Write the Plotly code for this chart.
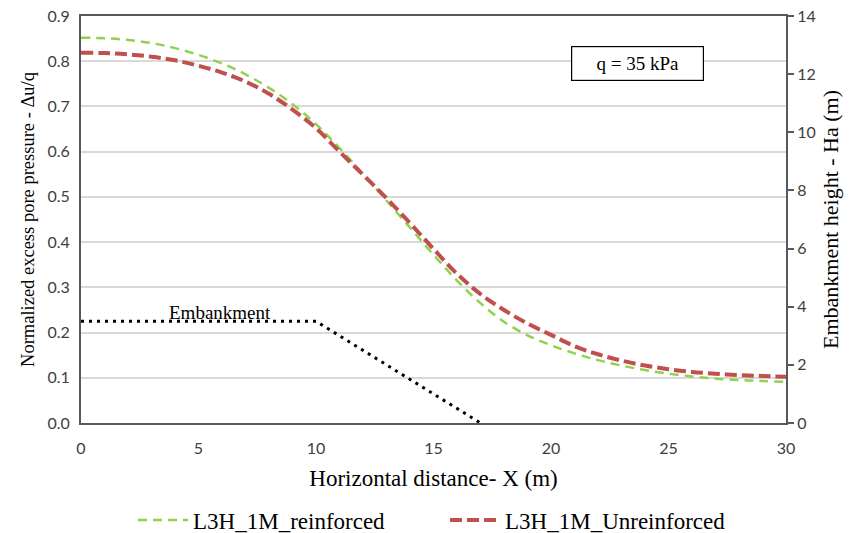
import plotly.graph_objects as go

x_vals = list(range(0, 31))
reinforced = [0.852, 0.851, 0.847, 0.840, 0.829, 0.814, 0.795, 0.771, 0.741, 0.705,
              0.661, 0.608, 0.551, 0.492, 0.432, 0.372, 0.315, 0.265, 0.224, 0.194,
              0.172, 0.154, 0.139, 0.127, 0.117, 0.109, 0.103, 0.098, 0.095, 0.093, 0.091]
unreinforced = [0.819, 0.818, 0.815, 0.810, 0.802, 0.790, 0.775, 0.755, 0.728, 0.693,
                0.652, 0.600, 0.549, 0.497, 0.442, 0.385, 0.330, 0.285, 0.250, 0.220,
                0.195, 0.170, 0.152, 0.138, 0.127, 0.119, 0.113, 0.109, 0.106, 0.104, 0.102]
emb_x = [0, 10, 17]
emb_h = [3.5, 3.5, 0]

serif = "Liberation Serif"
sans = "Lato"
axis_col = "#595959"
tick_col = "#404040"

fig = go.Figure()
fig.add_trace(go.Scatter(x=x_vals, y=reinforced, mode="lines", name="L3H_1M_reinforced",
                         line=dict(color="#92d050", width=2.5, dash="9px,6px", shape="spline")))
fig.add_trace(go.Scatter(x=x_vals, y=unreinforced, mode="lines", name="L3H_1M_Unreinforced",
                         line=dict(color="#c0504d", width=4, dash="12px,5px", shape="spline")))
fig.add_trace(go.Scatter(x=emb_x, y=emb_h, mode="lines", name="Embankment", yaxis="y2",
                         showlegend=False, line=dict(color="#000000", width=3, dash="3px,5px")))

fig.add_annotation(x=5.9, y=0.245, xref="x", yref="y", text="Embankment", showarrow=False,
                   font=dict(family=serif, size=19, color="#000000"))
fig.add_annotation(x=0.883, y=0.9275, xref="paper", yref="paper", text="q = 35 kPa", showarrow=False,
                   font=dict(family=serif, size=19, color="#000000"),
                   bordercolor="#000000", borderwidth=1.2, bgcolor="white",
                   width=129, height=31)

fig.update_layout(
    width=847, height=525,
    margin=dict(l=73, r=69, t=8, b=110),
    paper_bgcolor="white", plot_bgcolor="white",
    font=dict(family=sans, size=16, color=tick_col),
    xaxis=dict(range=[0, 30], dtick=5, showgrid=False, zeroline=False, automargin=False,
               showline=True, mirror=True, linecolor=axis_col, linewidth=2,
               ticks="", ticklabelstandoff=10, ticklabeloverflow="allow",
               tickfont=dict(family=sans, size=16, color=tick_col),
               title=dict(text="Horizontal distance- X (m)", standoff=14,
                          font=dict(family=serif, size=23, color="#000000"))),
    yaxis=dict(range=[0, 0.9], dtick=0.1, tickformat=".1f", showgrid=True, gridcolor="#d9d9d9",
               gridwidth=1.5, zeroline=False, showline=True, linecolor=axis_col, linewidth=2,
               automargin=False, ticks="", ticklabelstandoff=6, ticklabeloverflow="allow",
               tickfont=dict(family=sans, size=16, color=tick_col),
               title=dict(text="Normalized excess pore pressure - Δu/q", standoff=8,
                          font=dict(family=serif, size=18.5, color="#000000"))),
    yaxis2=dict(range=[0, 14], dtick=2, overlaying="y", side="right", showgrid=False,
                zeroline=False, showline=True, linecolor=axis_col, linewidth=2, automargin=False,
                ticks="outside", ticklen=6, tickwidth=1.5, tickcolor=axis_col,
                ticklabeloverflow="allow",
                tickfont=dict(family=sans, size=16, color=tick_col),
                title=dict(text="Embankment height - Ha (m)", standoff=8,
                           font=dict(family=serif, size=22, color="#000000"))),
    legend=dict(orientation="h", xref="container", yref="container",
                x=0.1476, xanchor="left", y=0.0248, yanchor="middle",
                font=dict(family=serif, size=23, color="#000000"), itemwidth=50,
                entrywidth=247, tracegroupgap=0),
    showlegend=True,
)

fig.write_html("out.html")
